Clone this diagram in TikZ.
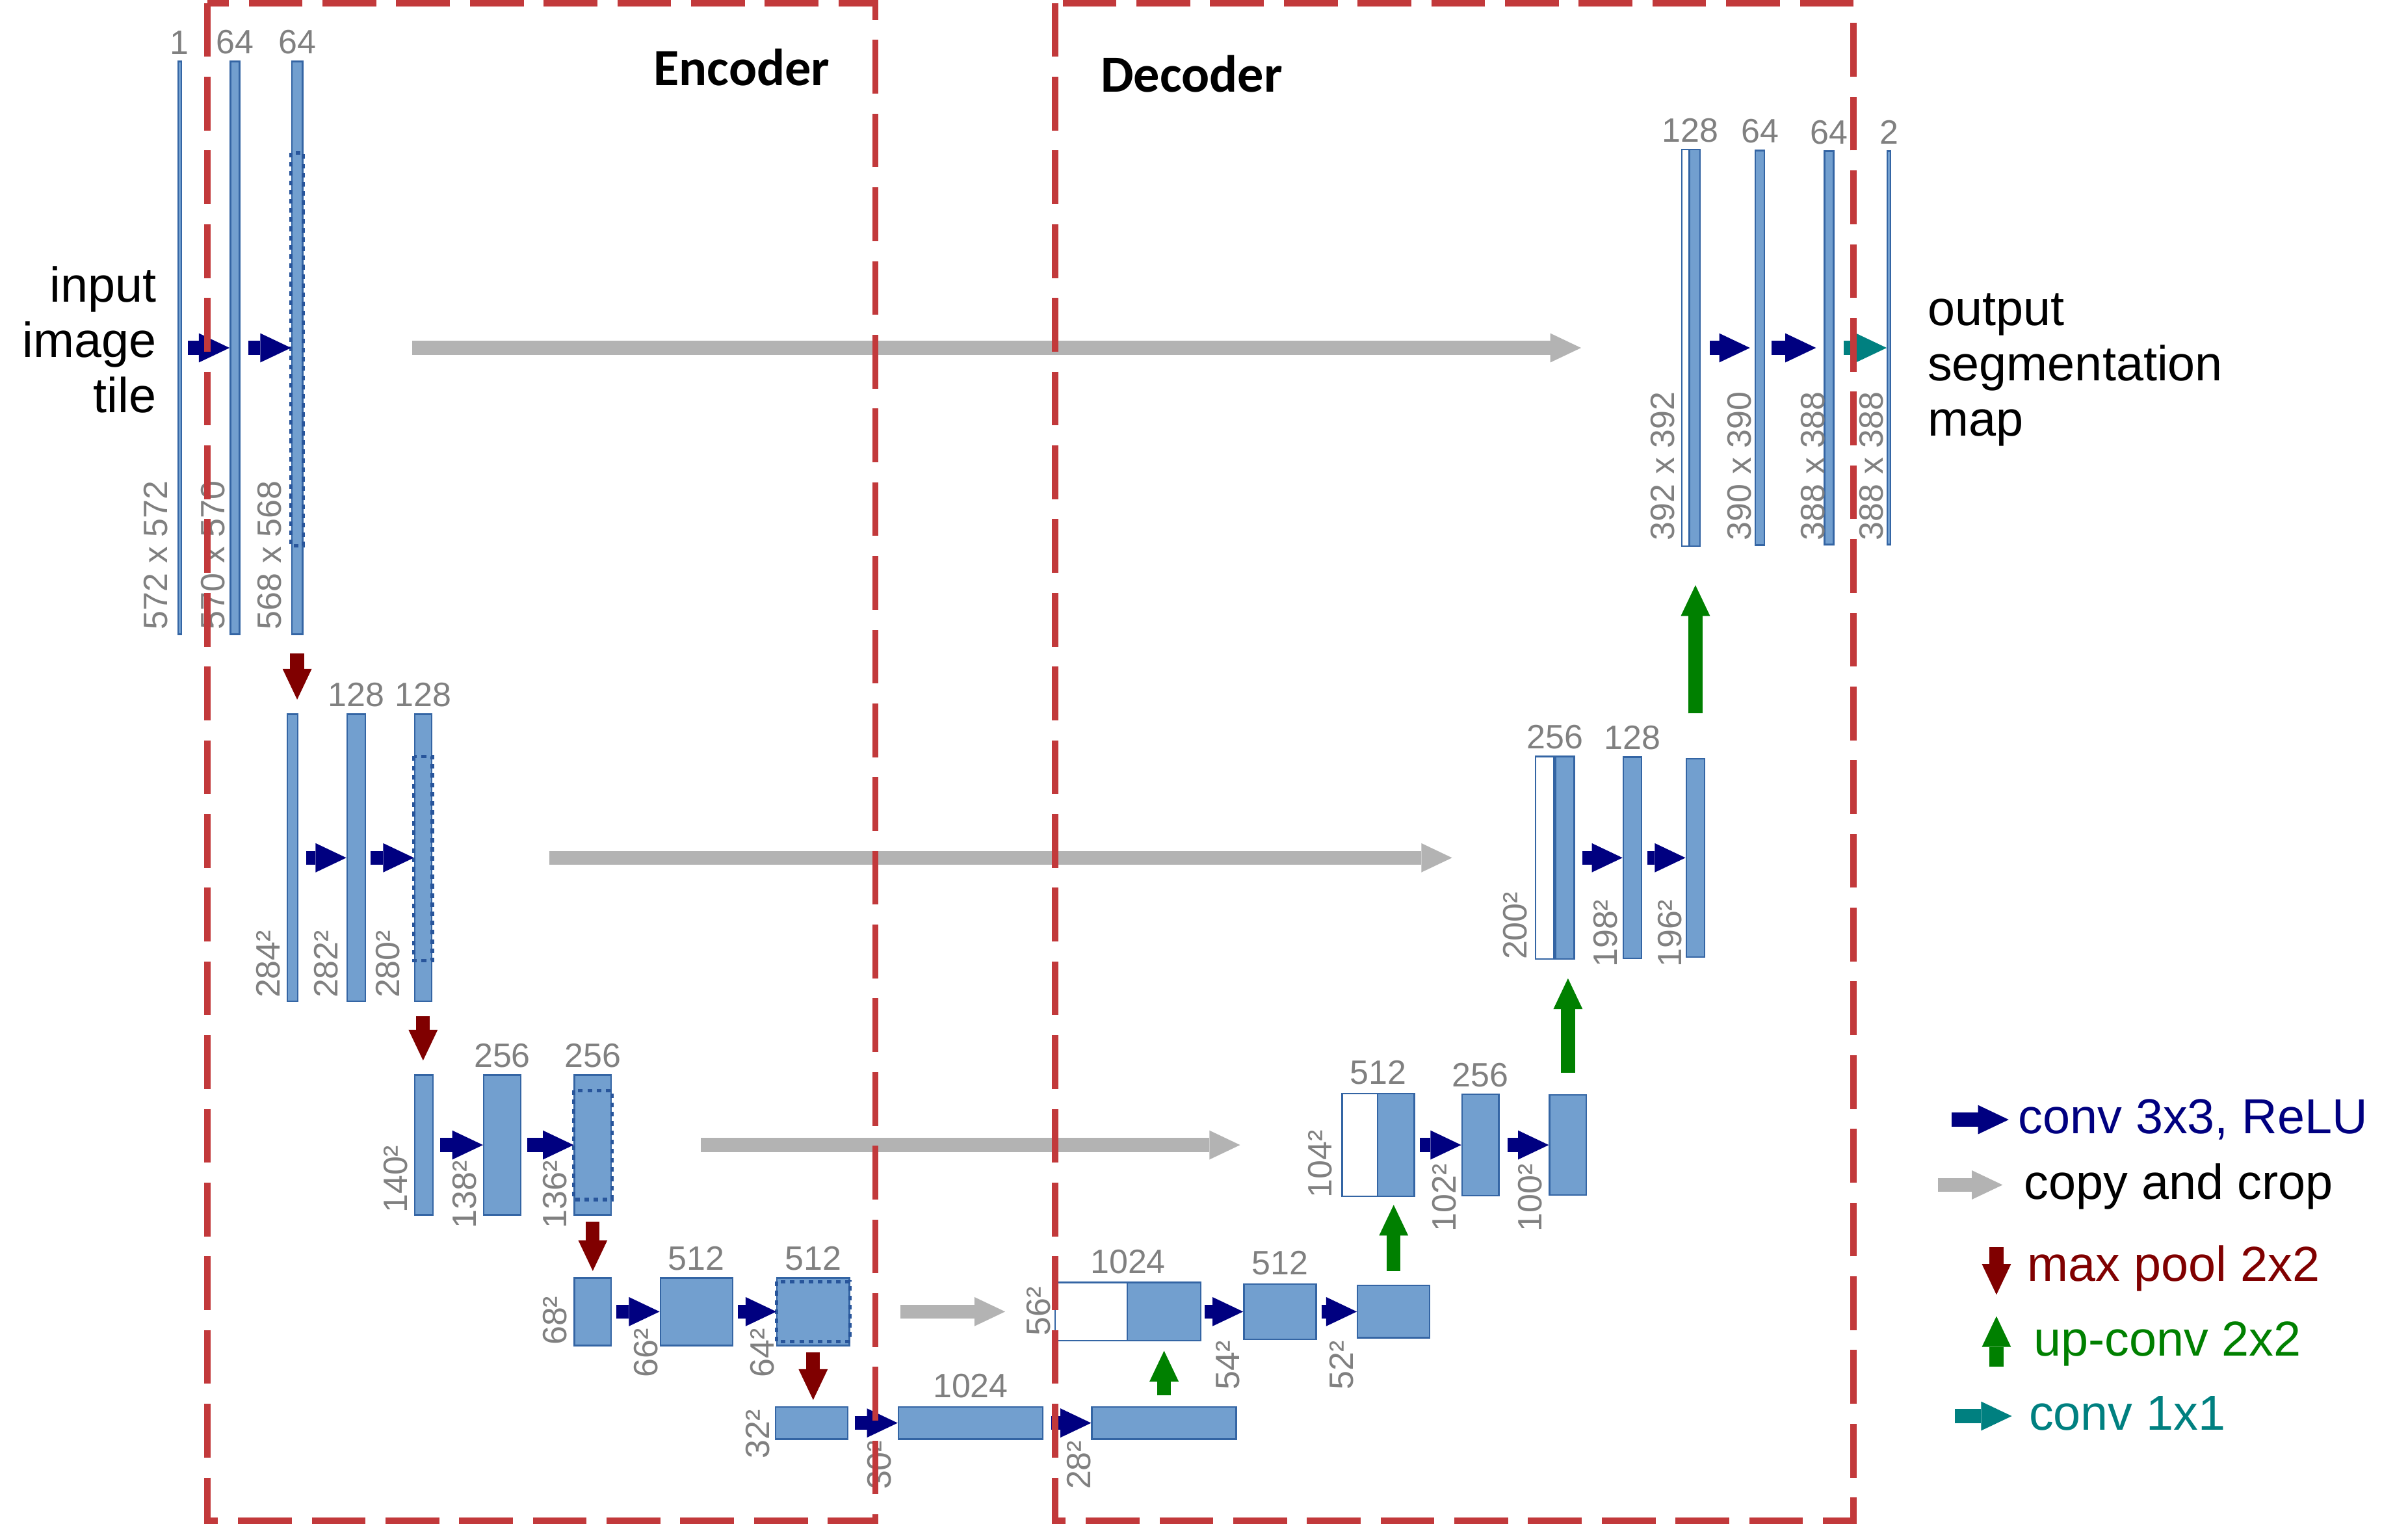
\documentclass[tikz,border=0pt]{standalone}
\usepackage{fontspec}
\setmainfont{Liberation Sans}
\newfontfamily\titlefont{Carlito}
\usetikzlibrary{arrows.meta,calc,positioning}

\definecolor{mapfill}{RGB}{114,159,207}
\definecolor{mapedge}{RGB}{52,101,164}
\definecolor{cropedge}{RGB}{40,85,155}
\definecolor{convblue}{RGB}{0,0,128}
\definecolor{copygray}{RGB}{179,179,179}
\definecolor{poolred}{RGB}{128,0,0}
\definecolor{upgreen}{RGB}{0,128,0}
\definecolor{outteal}{RGB}{0,128,128}
\definecolor{dimgray}{RGB}{128,128,128}
\definecolor{boxred}{RGB}{194,57,59}

\tikzset{
  fmap/.style={draw=mapedge, fill=mapfill, line width=1pt, inner sep=0pt},
  cmap/.style={draw=mapedge, fill=white, line width=1pt, inner sep=0pt},
  cropbox/.style={draw=cropedge, line width=2.2pt, dash pattern=on 3pt off 3pt},
  blockarrow/.style={line width=9pt, -{Triangle[length=20pt,width=19pt,line width=0pt 0]}},
  conv/.style={blockarrow, draw=convblue},
  copycrop/.style={blockarrow, draw=copygray},
  pool/.style={blockarrow, draw=poolred},
  upconv/.style={blockarrow, draw=upgreen},
  outconv/.style={blockarrow, draw=outteal},
  chan/.style={text=dimgray, font=\fontsize{22}{24}\selectfont, inner sep=0pt},
  dimtext/.style={chan, rotate=90, anchor=south west},
  bigtext/.style={font=\fontsize{32}{36}\selectfont, inner sep=0pt},
  part/.style={draw=boxred, line width=4.2pt, dash pattern=on 35pt off 13pt},
  parttitle/.style={font=\titlefont\bfseries\fontsize{34}{40}\selectfont, inner sep=0pt},
}

\begin{document}
\begin{tikzpicture}[x=1pt,y=-1pt]
\useasboundingbox (0,0) rectangle (1568,992);

% contracting path
\node[fmap, minimum width=2pt, minimum height=373pt] (e10) at (117,226.5) {};
\node[fmap, minimum width=6pt, minimum height=373pt] (e11) at (153,226.5) {};
\node[fmap, minimum width=7pt, minimum height=373pt] (e12) at (193.5,226.5) {};

\node[fmap, minimum width=7pt, minimum height=187pt] (e20) at (190.5,558.5) {};
\node[fmap, minimum width=12pt, minimum height=187pt] (e21) at (232,558.5) {};
\node[fmap, minimum width=11pt, minimum height=187pt] (e22) at (275.5,558.5) {};

\node[fmap, minimum width=12pt, minimum height=91pt] (e30) at (276,745.5) {};
\node[fmap, minimum width=24pt, minimum height=91pt] (e31) at (327,745.5) {};
\node[fmap, minimum width=24pt, minimum height=91pt] (e32) at (386,745.5) {};

\node[fmap, minimum width=24pt, minimum height=44pt] (e40) at (386,854) {};
\node[fmap, minimum width=47pt, minimum height=44pt] (e41) at (453.5,854) {};
\node[fmap, minimum width=47pt, minimum height=44pt] (e42) at (529.5,854) {};

\node[fmap, minimum width=47pt, minimum height=21pt] (e50) at (528.5,926.5) {};
\node[fmap, minimum width=94pt, minimum height=21pt] (e51) at (632,926.5) {};
\node[fmap, minimum width=94pt, minimum height=21pt] (e52) at (758,926.5) {};

% crop regions
\draw[cropbox] ($(e12.north west)+(0,60)$) rectangle ($(e12.south east)+(0,-58)$);
\draw[cropbox] ($(e22.north west)+(0,28)$) rectangle ($(e22.south east)+(0,-27)$);
\draw[cropbox] ($(e32.north west)+(0,10.5)$) rectangle ($(e32.south east)+(0,-10.5)$);
\draw[cropbox] ($(e42.north west)+(0,3)$) rectangle ($(e42.south east)+(0,-3)$);

% expansive path
\node[cmap, minimum width=47pt, minimum height=38pt] (d40c) at (710.5,854) {};
\node[fmap, minimum width=48pt, minimum height=38pt] (d40) at (758,854) {};
\node[fmap, minimum width=47pt, minimum height=36pt] (d41) at (833.5,854) {};
\node[fmap, minimum width=47pt, minimum height=34pt] (d42) at (907.5,854) {};

\node[cmap, minimum width=23pt, minimum height=67pt] (d30c) at (885.5,745.5) {};
\node[fmap, minimum width=24pt, minimum height=67pt] (d30) at (909,745.5) {};
\node[fmap, minimum width=24pt, minimum height=66pt] (d31) at (964,745.5) {};
\node[fmap, minimum width=24pt, minimum height=65pt] (d32) at (1021,745.5) {};

\node[cmap, minimum width=12pt, minimum height=132pt] (d20c) at (1006,558.5) {};
\node[fmap, minimum width=12pt, minimum height=132pt] (d20) at (1019,558.5) {};
\node[fmap, minimum width=12pt, minimum height=131pt] (d21) at (1063,558.5) {};
\node[fmap, minimum width=12pt, minimum height=129pt] (d22) at (1104,558.5) {};

\node[cmap, minimum width=5pt, minimum height=258pt] (d10c) at (1097.5,226.5) {};
\node[fmap, minimum width=7pt, minimum height=258pt] (d10) at (1103.5,226.5) {};
\node[fmap, minimum width=6pt, minimum height=257pt] (d11) at (1146,226.5) {};
\node[fmap, minimum width=6pt, minimum height=256pt] (d12) at (1191,226.5) {};
\node[fmap, minimum width=2pt, minimum height=256pt] (d13) at (1230,226.5) {};

% channel counts
\node[chan, above=4pt of e10] (c10) {1};
\node[chan, above=4pt of e11] (c11) {64};
\node[chan, above=4pt of e12] (c12) {64};
\node[chan, above=4pt of e21] (c21) {128};
\node[chan, above=4pt of e22] (c22) {128};
\node[chan, above=4pt of e31] (c31) {256};
\node[chan, above=4pt of e32] (c32) {256};
\node[chan, above=4pt of e41] (c41) {512};
\node[chan, above=4pt of e42] (c42) {512};
\node[chan, above=5pt of e51] (c51) {1024};
\node[chan, above=5pt of d40c.north east] (k40) {1024};
\node[chan, above=5pt of d41] (k41) {512};
\node[chan, above=5pt of d30c.north east] (k30) {512};
\node[chan, above=4pt of d31] (k31) {256};
\node[chan, above=4pt of d20c.north east] (k20) {256};
\node[chan, above=4pt of d21] (k21) {128};
\node[chan, above=4pt of d10c.north east] (k10) {128};
\node[chan, above=4pt of d11] (k11) {64};
\node[chan, above=4pt of d12] (k12) {64};
\node[chan, above=4pt of d13] (k13) {2};

% map sizes
\node[dimtext] (s10) at (109.5,410) {572 x 572};
\node[dimtext] (s11) at (146.5,410) {570 x 570};
\node[dimtext] (s12) at (183.5,410) {568 x 568};
\node[dimtext] (s20) at (182.5,650) {284²};
\node[dimtext] (s21) at (220.5,650) {282²};
\node[dimtext] (s22) at (260.5,650) {280²};
\node[dimtext] (s30) at (265.5,790) {140²};
\node[dimtext] (s31) at (310.5,800) {138²};
\node[dimtext] (s32) at (369.5,800) {136²};
\node[dimtext] (s40) at (369.5,876) {68²};
\node[dimtext] (s41) at (428.5,897) {66²};
\node[dimtext] (s42) at (504.5,897) {64²};
\node[dimtext] (s50) at (501.5,950) {32²};
\node[dimtext] (s51) at (580.5,970) {30²};
\node[dimtext] (s52) at (710.5,970) {28²};
\node[dimtext] (t40) at (684.5,870) {56²};
\node[dimtext] (t41) at (807.5,905) {54²};
\node[dimtext] (t42) at (881.5,905) {52²};
\node[dimtext] (t30) at (867.5,780) {104²};
\node[dimtext] (t31) at (948.5,802) {102²};
\node[dimtext] (t32) at (1004.5,802) {100²};
\node[dimtext] (t20) at (994.5,625) {200²};
\node[dimtext] (t21) at (1053.5,630) {198²};
\node[dimtext] (t22) at (1095.5,630) {196²};
\node[dimtext] (t10) at (1090.5,352) {392 x 392};
\node[dimtext] (t11) at (1140.5,352) {390 x 390};
\node[dimtext] (t12) at (1188.5,352) {388 x 388};
\node[dimtext] (t13) at (1226.5,352) {388 x 388};

% conv 3x3
\draw[conv] ($(e10.east)+(4,0)$) -- (e11.west);
\draw[conv] ($(e11.east)+(5,0)$) -- (e12.west);
\draw[conv] ($(e20.east)+(5,0)$) -- (e21.west);
\draw[conv] ($(e21.east)+(3,0)$) -- (e22.west);
\draw[conv] ($(e30.east)+(4,0)$) -- (e31.west);
\draw[conv] ($(e31.east)+(4,0)$) -- (e32.west);
\draw[conv] ($(e40.east)+(3,0)$) -- (e41.west);
\draw[conv] ($(e41.east)+(3,0)$) -- (e42.west);
\draw[conv] ($(e50.east)+(4,0)$) -- (e51.west);
\draw[conv] ($(e51.east)+(5,0)$) -- (e52.west);
\draw[conv] ($(d40.east)+(2,0)$) -- (d41.west);
\draw[conv] ($(d41.east)+(3,0)$) -- (d42.west);
\draw[conv] ($(d30.east)+(3,0)$) -- (d31.west);
\draw[conv] ($(d31.east)+(5,0)$) -- (d32.west);
\draw[conv] ($(d20.east)+(5,0)$) -- (d21.west);
\draw[conv] ($(d21.east)+(3,0)$) -- (d22.west);
\draw[conv] ($(d10.east)+(6,0)$) -- ($(d11.west)+(-3,0)$);
\draw[conv] ($(d11.east)+(4,0)$) -- ($(d12.west)+(-5,0)$);
\draw[outconv] ($(d12.east)+(6,0)$) -- (d13.west);

% max pool
\draw[pool] ($(e12.south)+(0,12)$) -- ($(e20.north -| e12.south)+(0,-9)$);
\draw[pool] ($(e22.south)+(0,9)$) -- ($(e30.north -| e22.south)+(0,-9)$);
\draw[pool] ($(e32.south)+(0,4)$) -- ($(e40.north -| e32.south)+(0,-4)$);
\draw[pool] ($(e42.south)+(0,4)$) -- ($(e50.north -| e42.south)+(0,-4)$);

% up-conv
\draw[upconv] ($(e52.north)+(0,-7)$) -- ($(d40.south)+(0,6)$);
\draw[upconv] ($(d42.north)+(0,-9)$) -- ($(d30.south -| d42.north)+(0,5)$);
\draw[upconv] ($(d32.north)+(0,-14)$) -- ($(d20.south -| d32.north)+(0,12)$);
\draw[upconv] ($(d22.north)+(0,-29)$) -- ($(d10.south -| d22.north)+(0,25)$);

% copy and crop
\draw[copycrop] ($(e12.east)+(71,0)$) -- ($(d10c.west)+(-65,0)$);
\draw[copycrop] ($(e22.east)+(76,0)$) -- ($(d20c.west)+(-54,0)$);
\draw[copycrop] ($(e32.east)+(58,0)$) -- ($(d30c.west)+(-66,0)$);
\draw[copycrop] ($(e42.east)+(33,0)$) -- ($(d40c.west)+(-32,0)$);

% in and out
\node[bigtext, align=right, anchor=east] (intile) at (102,221) {input\\image\\tile};
\node[bigtext, align=left, anchor=west] (outmap) at (1255,241) {output\\segmentation\\map};

% legend
\node[bigtext, text=convblue, anchor=base west] (lconv) at (1314,738) {conv 3x3, ReLU};
\node[bigtext, anchor=base west] (lcopy) at (1318,781) {copy and crop};
\node[bigtext, text=poolred, anchor=base west] (lpool) at (1320,834) {max pool 2x2};
\node[bigtext, text=upgreen, anchor=base west] (lup) at (1324,883) {up-conv 2x2};
\node[bigtext, text=outteal, anchor=base west] (lout) at (1321,931) {conv 1x1};
\draw[conv] ($(lconv.base west)+(-43,-9)$) -- ($(lconv.base west)+(-6,-9)$);
\draw[copycrop] ($(lcopy.base west)+(-56,-9.5)$) -- ($(lcopy.base west)+(-14,-9.5)$);
\draw[pool] ($(lpool.base west)+(-20,-22)$) -- ($(lpool.base west)+(-20,9)$);
\draw[upconv] ($(lup.base west)+(-24,7)$) -- ($(lup.base west)+(-24,-26)$);
\draw[outconv] ($(lout.base west)+(-48,-9)$) -- ($(lout.base west)+(-11,-9)$);

% encoder / decoder frames
\node[parttitle] (enc) at (483,44) {Encoder};
\node[parttitle] (dec) at (776,48) {Decoder};
\draw[part] (135,2) rectangle (570,990);
\draw[part] (687,2) rectangle (1207,990);
\end{tikzpicture}
\end{document}
